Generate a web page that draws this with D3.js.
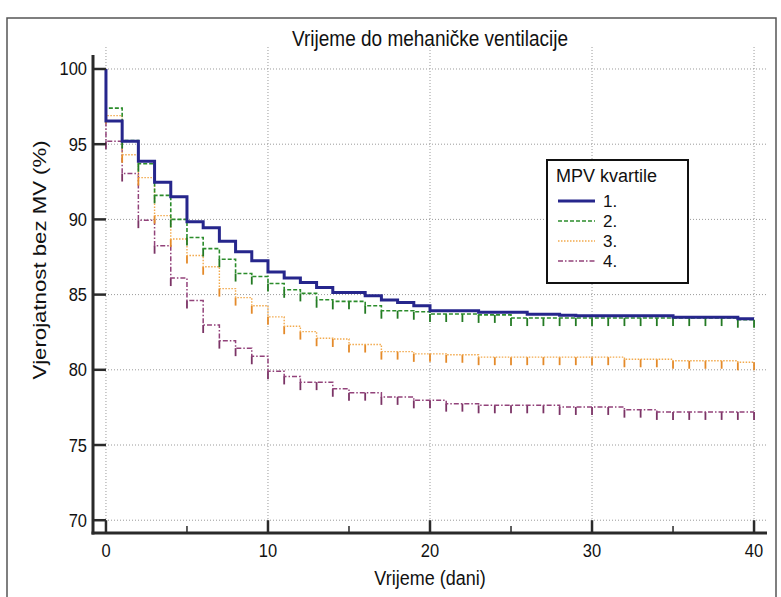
<!DOCTYPE html>
<html lang="hr">
<head>
<meta charset="utf-8">
<title>Vrijeme do mehaničke ventilacije</title>
<script src="https://d3js.org/d3.v7.min.js"></script>
<style>
  body { margin: 0; background: #fff; }
  svg text { font-family: "Liberation Sans", Arial, sans-serif; fill: #111; }
</style>
</head>
<body>
<svg id="chart" width="781" height="597"></svg>
<script>
    // survival (%) held from day i to day i+1, i = 0..39
    const days = d3.range(0, 40);
    const q1 = [96.55, 95.2, 93.86, 92.47, 91.5, 89.85, 89.45, 88.55, 87.85, 87.25,
                86.5, 86.1, 85.8, 85.48, 85.14, 85.14, 84.92, 84.64, 84.48, 84.26,
                83.93, 83.93, 83.93, 83.82, 83.82, 83.82, 83.7, 83.7, 83.62, 83.6,
                83.6, 83.6, 83.6, 83.6, 83.6, 83.5, 83.5, 83.5, 83.5, 83.4];
    const q2 = [97.4, 95.25, 93.7, 91.6, 90.0, 88.8, 88.06, 87.35, 86.4, 86.2,
                85.74, 85.32, 85.08, 84.66, 84.55, 84.55, 84.26, 83.93, 83.93, 83.86,
                83.71, 83.71, 83.71, 83.65, 83.65, 83.44, 83.44, 83.44, 83.44, 83.44,
                83.44, 83.44, 83.44, 83.44, 83.44, 83.44, 83.44, 83.44, 83.44, 83.33];
    const q3 = [96.9, 94.3, 92.78, 90.25, 88.7, 87.6, 86.85, 85.4, 84.8, 84.26,
                83.52, 82.9, 82.54, 82.1, 82.05, 81.68, 81.68, 81.21, 81.21, 81.06,
                81.06, 81.0, 81.0, 80.84, 80.84, 80.84, 80.84, 80.84, 80.84, 80.84,
                80.84, 80.84, 80.7, 80.7, 80.7, 80.6, 80.6, 80.6, 80.6, 80.5];
    const q4 = [95.2, 93.05, 89.95, 88.25, 86.1, 84.6, 82.98, 81.94, 81.44, 80.9,
                79.9, 79.56, 79.18, 79.18, 78.74, 78.48, 78.48, 78.2, 78.2, 77.97,
                77.97, 77.75, 77.75, 77.64, 77.64, 77.64, 77.64, 77.64, 77.53, 77.53,
                77.53, 77.53, 77.35, 77.35, 77.2, 77.2, 77.2, 77.2, 77.2, 77.2];
    const seriesNames = ["1.", "2.", "3.", "4."];
    const xTicks = [0, 10, 20, 30, 40];
    const xMinor = [5, 15, 25, 35];
    const yTicks = [70, 75, 80, 85, 90, 95, 100];

    const svg = d3.select("#chart");

    // text with optional vertical stretch (title/labels look a bit tall in the source)
    function tallText(g, tx, ty, size, str, anchor, k) {
        return g.append("text")
            .attr("transform", "translate(" + tx + "," + ty + ") scale(1," + (k || 1) + ")")
            .attr("text-anchor", anchor || "start")
            .style("font-size", size + "px")
            .text(str);
    }

    // outer frame
    svg.append("rect")
        .attr("x", 7).attr("y", 18).attr("width", 769).attr("height", 600)
        .attr("fill", "none").attr("stroke", "#555").attr("stroke-width", 1.5);

    const x = d3.scaleLinear().domain([-0.8, 40.8]).range([93, 767]);
    const y = d3.scaleLinear().domain([69.15, 100.93]).range([533, 55]);

    // grid
    const grid = svg.append("g")
        .attr("stroke", "#9a9a9a").attr("stroke-width", 1)
        .attr("stroke-dasharray", "1,2");
    grid.selectAll(".hg").data(yTicks).enter().append("line")
        .attr("x1", x(-0.8)).attr("x2", x(40.8))
        .attr("y1", d => y(d)).attr("y2", d => y(d));
    grid.selectAll(".vg").data(xTicks).enter().append("line")
        .attr("x1", d => x(d)).attr("x2", d => x(d))
        .attr("y1", 47).attr("y2", y(69.15));

    // title
    tallText(svg, 430, 46, 19, "Vrijeme do mehaničke ventilacije", "middle", 1.15);

    // curves
    const line = d3.line()
        .x(d => x(d[0]))
        .y(d => y(d[1]))
        .curve(d3.curveStepAfter);

    function pts(vals) {
        const p = [[0, 100]];
        days.forEach(d => p.push([d, vals[d]]));
        p.push([40, vals[vals.length - 1]]);
        return p;
    }

    const series = [
        {vals: q4, color: "#92427a", tick: "#7b3466", width: 1.5, dash: "5,2,1.5,2"},
        {vals: q3, color: "#f2a94c", tick: "#e48a2a", width: 1.4, dash: "1.5,1.5"},
        {vals: q2, color: "#2b8c2b", tick: "#237a23", width: 1.6, dash: "4,2"},
        {vals: q1, color: "#26268c", tick: null, width: 3, dash: null}
    ];

    const curves = svg.append("g");
    series.forEach(s => {
        if (s.tick) {
            // censor marks below each step
            curves.append("g").selectAll("line")
                .data(d3.range(0, 41)).enter().append("line")
                .attr("x1", d => x(d)).attr("x2", d => x(d))
                .attr("y1", d => y(s.vals[Math.min(d, 39)]))
                .attr("y2", d => y(s.vals[Math.min(d, 39)]) + 8)
                .attr("stroke", s.tick).attr("stroke-width", 1.8);
        }
        curves.append("path")
            .attr("d", line(pts(s.vals)))
            .attr("fill", "none")
            .attr("stroke", s.color)
            .attr("stroke-width", s.width)
            .attr("stroke-dasharray", s.dash);
    });

    // axes
    const ax = svg.append("g").attr("stroke", "#2a2a2a");
    ax.append("line")
        .attr("x1", x(-0.8)).attr("x2", x(-0.8))
        .attr("y1", 55).attr("y2", y(69.15) + 1.5)
        .attr("stroke-width", 3);
    ax.append("line")
        .attr("x1", x(-0.8) - 1.5).attr("x2", x(40.8))
        .attr("y1", y(69.15)).attr("y2", y(69.15))
        .attr("stroke-width", 3);
    ax.selectAll(".yt").data(yTicks).enter().append("line")
        .attr("x1", x(-0.8)).attr("x2", x(0))
        .attr("y1", d => y(d)).attr("y2", d => y(d))
        .attr("stroke-width", 2.5);
    ax.selectAll(".xt").data(xTicks).enter().append("line")
        .attr("x1", d => x(d)).attr("x2", d => x(d))
        .attr("y1", y(69.15)).attr("y2", y(70))
        .attr("stroke-width", 2.5);
    ax.selectAll(".xm").data(xMinor).enter().append("line")
        .attr("x1", d => x(d)).attr("x2", d => x(d))
        .attr("y1", y(69.15)).attr("y2", y(69.15) - 7)
        .attr("stroke-width", 1.5);

    const yl = svg.append("g");
    yTicks.forEach(d => tallText(yl, 87, y(d) + 6.5, 16.5, d, "end", 1.1));
    const xl = svg.append("g");
    xTicks.forEach(d => tallText(xl, x(d), 557, 16.5, d, "middle", 1.1));

    tallText(svg, 430, 585, 18, "Vrijeme (dani)", "middle", 1.1);
    svg.append("text")
        .attr("transform", "translate(46,260) rotate(-90) scale(1.2,1)")
        .attr("text-anchor", "middle")
        .style("font-size", "18.5px")
        .text("Vjerojatnost bez MV (%)");

    // legend
    const lg = svg.append("g");
    lg.append("rect")
        .attr("x", 547).attr("y", 160).attr("width", 141).attr("height", 123)
        .attr("fill", "#fff").attr("stroke", "#111").attr("stroke-width", 2);
    tallText(lg, 556, 182, 18, "MPV kvartile");
    const legendOrder = [q1, q2, q3, q4];
    legendOrder.forEach((v, i) => {
        const s = series.find(t => t.vals === v);
        const ly = 201 + i * 20;
        lg.append("line")
            .attr("x1", 558).attr("x2", 595)
            .attr("y1", ly).attr("y2", ly)
            .attr("stroke", s.color).attr("stroke-width", s.width)
            .attr("stroke-dasharray", s.dash);
        tallText(lg, 603, ly + 6, 17, seriesNames[i]);
    });
</script>
</body>
</html>
